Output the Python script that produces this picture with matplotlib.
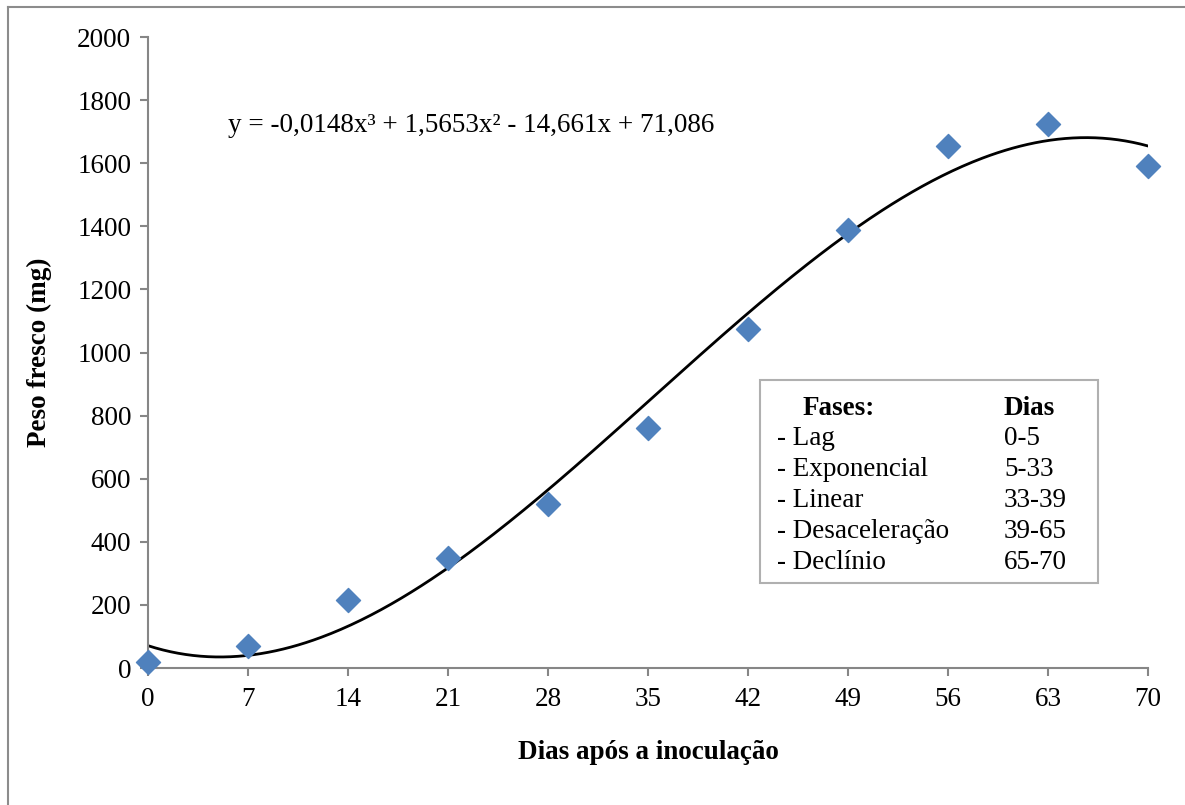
import matplotlib
matplotlib.use("Agg")
import matplotlib.pyplot as plt
from matplotlib.lines import Line2D
import numpy as np

# Data
dias = [0, 7, 14, 21, 28, 35, 42, 49, 56, 63, 70]
peso = [18, 70, 215, 349, 520, 761, 1075, 1388, 1655, 1724, 1591]
xticks = [0, 7, 14, 21, 28, 35, 42, 49, 56, 63, 70]
yticks = [0, 200, 400, 600, 800, 1000, 1200, 1400, 1600, 1800, 2000]
equacao = 'y = -0,0148x³ + 1,5653x² - 14,661x + 71,086'
fases = ["- Lag", "- Exponencial", "- Linear", "- Desaceleração", "- Declínio"]
fases_dias = ["0-5", "5-33", "33-39", "39-65", "65-70"]

plt.rcParams['font.family'] = ['Liberation Serif', 'DejaVu Serif']

W, H = 1185, 805
fig = plt.figure(figsize=(W / 100, H / 100), dpi=100)

# outer border (left and top visible)
fig.add_artist(Line2D([8 / W, 8 / W], [0, 1 - 7 / H], color='#8c8c8c', lw=1.5))
fig.add_artist(Line2D([8 / W, 1], [1 - 7 / H, 1 - 7 / H], color='#8c8c8c', lw=1.5))

ax = fig.add_axes([148 / W, 1 - 668 / H, 1000 / W, 631 / H])
ax.set_xlim(0, 70)
ax.set_ylim(0, 2000)

# cubic polynomial trendline fitted to the data
coef = np.polyfit(dias, peso, 3)
xs = np.linspace(0, 70, 400)
ax.plot(xs, np.polyval(coef, xs), color='black', lw=2, zorder=2)
ax.scatter(dias, peso, marker='D', s=150, color='#4f81bd', zorder=3, clip_on=False)

for s in ['top', 'right']:
    ax.spines[s].set_visible(False)
for s in ['left', 'bottom']:
    ax.spines[s].set_color('#868686')
    ax.spines[s].set_linewidth(1.5)

ax.set_xticks(xticks)
ax.set_yticks(yticks)
ax.tick_params(axis='both', direction='out', length=6, width=1.5, color='#868686',
               labelsize=19.5, pad=6)
ax.tick_params(axis='x', pad=8)

ax.set_xlabel('Dias após a inoculação', fontsize=19.5, fontweight='bold', labelpad=20)
ax.set_ylabel('Peso fresco (mg)', fontsize=19.5, fontweight='bold', labelpad=18)

fig.text(228 / W, 1 - 125 / H, equacao, fontsize=19.5, va='center', ha='left')

# phases box
bx0, by0, bx1, by1 = 760, 380, 1098, 583
fig.patches.append(plt.Rectangle((bx0 / W, 1 - by1 / H), (bx1 - bx0) / W, (by1 - by0) / H,
                                 transform=fig.transFigure, fill=True, facecolor='white',
                                 edgecolor='#b0b0b0', lw=1.5, zorder=5))
fig.text(803 / W, 1 - 408 / H, 'Fases:', fontsize=19.5, fontweight='bold', va='center', zorder=6)
fig.text(1003 / W, 1 - 408 / H, 'Dias', fontsize=19.5, fontweight='bold', va='center', zorder=6)
for i, (f, d) in enumerate(zip(fases, fases_dias)):
    yy = 438 + i * 31
    fig.text(777 / W, 1 - yy / H, f, fontsize=19.5, va='center', zorder=6)
    fig.text(1004 / W, 1 - yy / H, d, fontsize=19.5, va='center', ha='left', zorder=6)

fig.savefig('out.png', dpi=100)
